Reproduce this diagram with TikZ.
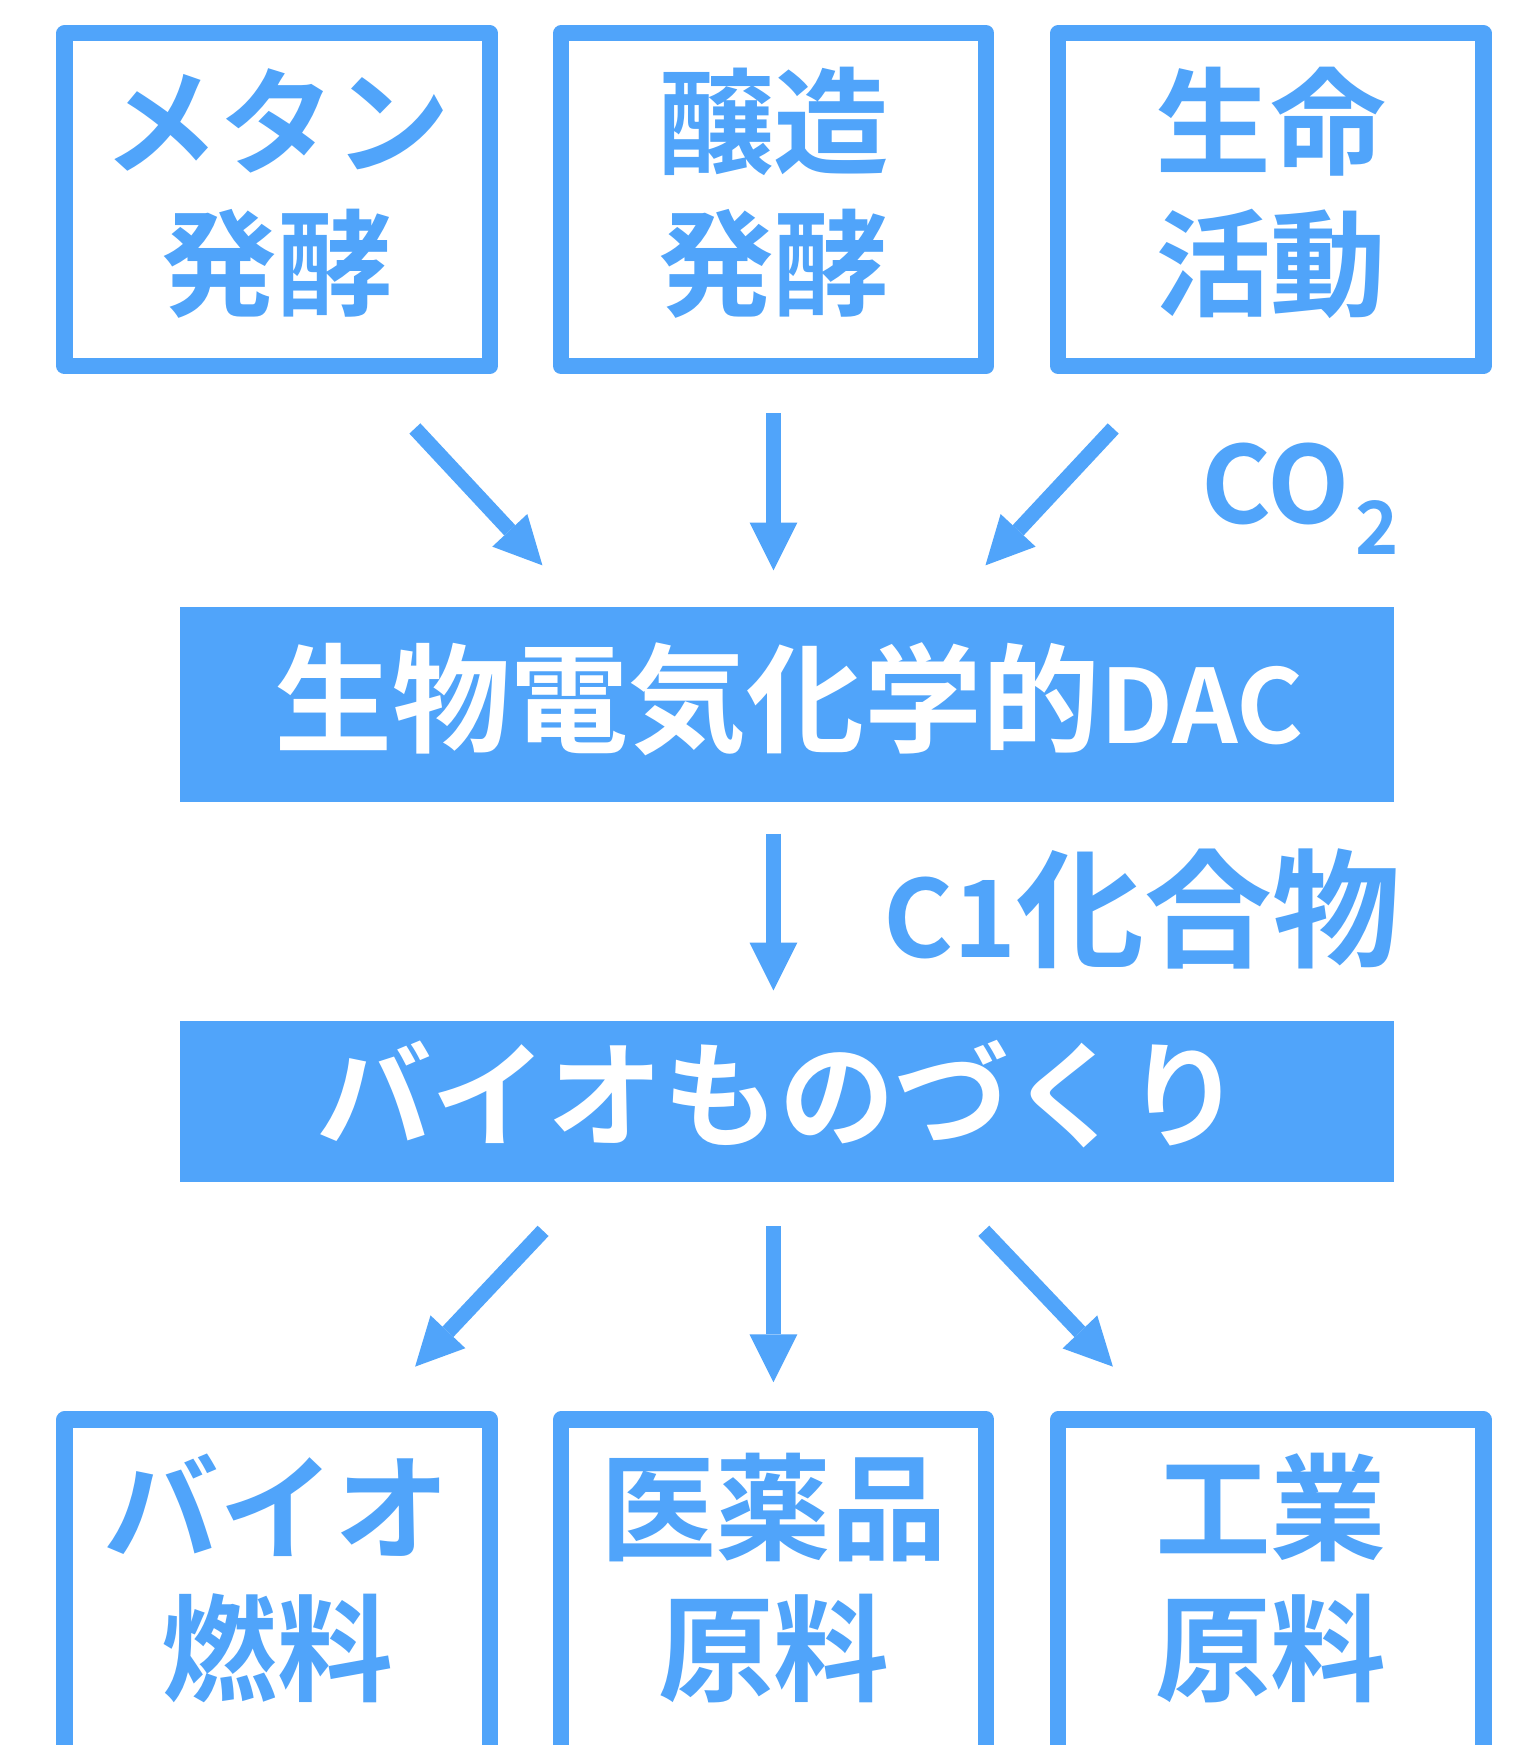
\documentclass[tikz,border=0pt]{standalone}
\usepackage{fontspec}
\newfontfamily\cjk{Noto Sans CJK JP}[BoldFont={Noto Sans CJK JP Bold}]
\usetikzlibrary{arrows.meta}
\definecolor{bblue}{RGB}{80,164,250}
\tikzset{
  boxn/.style={draw=bblue, line width=14.5pt, line join=round, rectangle, inner sep=0pt,
    minimum width=382pt, minimum height=299pt},
  barn/.style={fill=bblue, rectangle, inner sep=0pt, minimum width=1091pt},
  lbl/.style={text=bblue, inner sep=0pt, anchor=base, font=\cjk\bfseries\fontsize{104}{104}\selectfont},
  barlbl/.style={text=white, inner sep=0pt, anchor=base},
  arr/.style={draw=bblue, line width=13.5pt, line cap=butt,
    -{Triangle[length=43pt,width=43pt,line width=0pt]}}
}
\begin{document}
\begin{tikzpicture}[x=1pt,y=-1pt]
\useasboundingbox (0,0) rectangle (1378,1568);
\fill[white] (0,0) rectangle (1378,1568);
\begin{scope}
\clip (0,0) rectangle (1378,1568);
% top boxes
\node[boxn] (t1) at (249,179.5) {};
\node[boxn] (t2) at (695.25,179.5) {};
\node[boxn] (t3) at (1142,179.5) {};
\node[lbl] (t1a) at (249,148.5) {メタン};
\node[lbl] (t1b) at (249,276) {発酵};
\node[lbl] (t2a) at (695.25,148.5) {醸造};
\node[lbl] (t2b) at (695.25,276) {発酵};
\node[lbl] (t3a) at (1142,148.5) {生命};
\node[lbl] (t3b) at (1142,276) {活動};
% bars
\node[barn, minimum height=175.5pt] (bar1) at (707.5,632.75) {};
\node[barlbl, font=\cjk\bfseries\fontsize{106}{106}\selectfont] (bar1t) at (709,668) {生物電気化学的{\fontsize{92}{92}\selectfont DAC}};
\node[barn, minimum height=145.3pt] (bar2) at (707.5,989.65) {};
\node[barlbl, font=\cjk\bfseries\fontsize{104}{104}\selectfont] (bar2t) at (700,1023) {バイオものづくり};
% side labels
\node[lbl, font=\cjk\bfseries\fontsize{96}{96}\selectfont] (co2) at (1168,470) {CO\hspace{5pt}\raisebox{-28pt}{\fontsize{66}{66}\selectfont 2}};
\node[lbl, font=\cjk\bfseries\fontsize{115}{115}\selectfont] (c1) at (1026.5,860) {{\fontsize{96}{96}\selectfont C1}化合物};
% bottom boxes
\node[boxn, minimum height=310pt] (u1) at (249,1430.5) {};
\node[boxn, minimum height=310pt] (u2) at (695.25,1430.5) {};
\node[boxn, minimum height=310pt] (u3) at (1142,1430.5) {};
\node[lbl] (u1a) at (249,1394) {バイオ};
\node[lbl] (u1b) at (249,1521) {燃料};
\node[lbl] (u2a) at (695.25,1394) {医薬品};
\node[lbl] (u2b) at (695.25,1521) {原料};
\node[lbl] (u3a) at (1142,1394) {工業};
\node[lbl] (u3b) at (1142,1521) {原料};
% arrows
\coordinate (a1s) at (372.8,385);
\coordinate (a1e) at (487.4,508);
\coordinate (a2s) at (695,371.5);
\coordinate (a2e) at (695,512.5);
\coordinate (a3s) at (1000.3,385);
\coordinate (a3e) at (885.5,508);
\coordinate (a4s) at (695,749);
\coordinate (a4e) at (695,890);
\coordinate (b1s) at (488,1106);
\coordinate (b1e) at (373,1228);
\coordinate (b2s) at (695,1102);
\coordinate (b2e) at (695,1242);
\coordinate (b3s) at (884,1106);
\coordinate (b3e) at (1000,1228);
\draw[arr] (a1s) -- (a1e);
\draw[arr] (a2s) -- (a2e);
\draw[arr] (a3s) -- (a3e);
\draw[arr] (a4s) -- (a4e);
\draw[arr] (b1s) -- (b1e);
\draw[arr] (b2s) -- (b2e);
\draw[arr] (b3s) -- (b3e);
\end{scope}
\end{tikzpicture}
\end{document}
